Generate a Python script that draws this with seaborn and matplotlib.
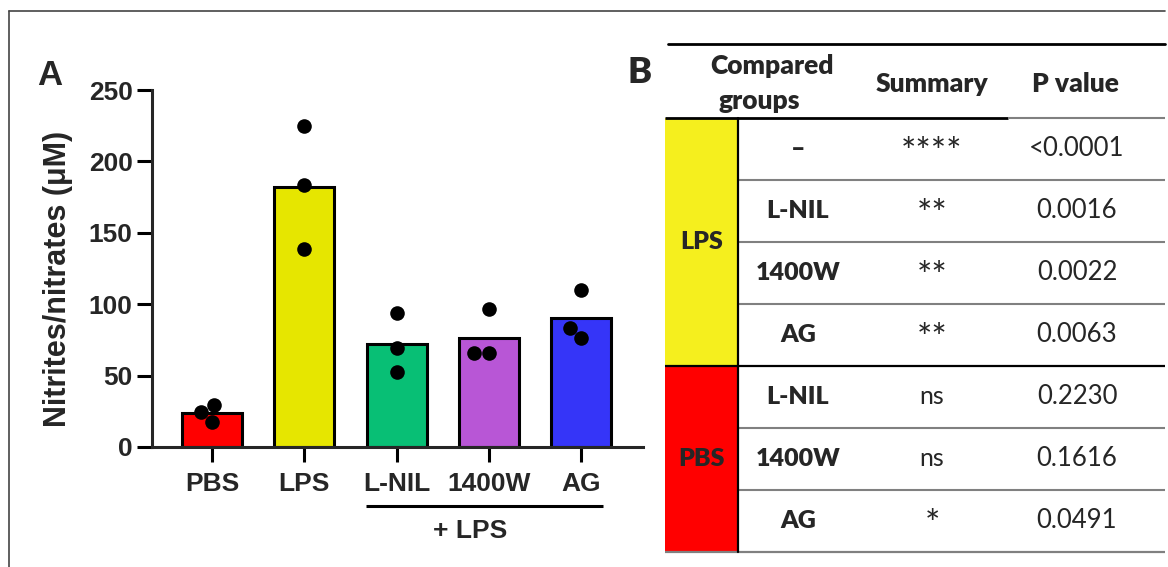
import numpy as np
import pandas as pd
import matplotlib
matplotlib.use('Agg')
import matplotlib.pyplot as plt
import seaborn as sns

# ---- panel A data ----
groups = ['PBS', 'LPS', 'L-NIL', '1400W', 'AG']
pbs = [29.5, 17.5, 24.5]
lps = [225, 183.5, 138.5]
lnil = [94, 69, 52.5]
w1400 = [96.5, 66, 65.5]
ag = [110, 76.5, 83.5]
bar_colors = ['#ff0000', '#e6e600', '#08bf75', '#b856d6', '#3535f8']
yticks = [0, 50, 100, 150, 200, 250]

# ---- panel B data ----
ref_groups = ['LPS', 'PBS']
group_sizes = [4, 3]
ref_colors = ['#f5ef1e', '#ff0000']
compared = ['–', 'L-NIL', '1400W', 'AG', 'L-NIL', '1400W', 'AG']
summary = ['****', '**', '**', '**', 'ns', 'ns', '*']
p_values = ['<0.0001', '0.0016', '0.0022', '0.0063', '0.2230', '0.1616', '0.0491']

df = pd.DataFrame({
    'group': np.repeat(groups, 3),
    'value': pbs + lps + lnil + w1400 + ag,
})

sns.set_style('ticks')
plt.rcParams['font.family'] = ['Liberation Sans', 'DejaVu Sans']

W, H = 1168, 567
fig = plt.figure(figsize=(W / 100, H / 100), dpi=100)

# bar chart
ax = fig.add_axes([152 / W, (H - 447) / H, 491 / W, 357 / H])
sns.barplot(data=df, x='group', y='value', hue='group', order=groups,
            palette=bar_colors, errorbar=None, width=0.65, saturation=1,
            edgecolor='black', linewidth=2.2, legend=False, ax=ax)
sns.swarmplot(data=df, x='group', y='value', order=groups, color='black',
              size=10.5, ax=ax)
ax.set_ylim(0, 250)
ax.set_xlim(-0.65, 4.67)
ax.set_yticks(yticks)
sns.despine(ax=ax)
for s in ['left', 'bottom']:
    ax.spines[s].set_linewidth(2.2)
ax.tick_params(axis='both', width=2.2, length=11, labelsize=19, color='black')
ax.tick_params(axis='y', pad=3)
ax.tick_params(axis='x', pad=7)
for lbl in ax.get_xticklabels() + ax.get_yticklabels():
    lbl.set_fontweight('bold')
ax.set_xlabel('')
ax.set_ylabel('Nitrites/nitrates (μM)', fontsize=22, fontweight='bold')
ax.yaxis.set_label_coords(-0.161, 0.47)

# overlay in pixel coordinates for annotations and the table
ov = fig.add_axes([0, 0, 1, 1])
ov.set_xlim(0, W)
ov.set_ylim(H, 0)
ov.axis('off')

# outer frame
ov.plot([9, 1165], [11, 11], color='#444444', lw=1.2)
ov.plot([9, 9], [11, H], color='#444444', lw=1.2)

ov.text(37, 85, 'A', fontsize=25, fontweight='bold', va='baseline')
ov.plot([366, 603], [506, 506], color='black', lw=2.2, solid_capstyle='butt')
ov.text(470, 531, '+ LPS', ha='center', va='center', fontsize=19, fontweight='bold')

# table (panel B)
tf = ['Lato', 'DejaVu Sans']
ov.text(627, 83, 'B', fontsize=26, fontweight='heavy', family=tf, va='baseline')
ov.plot([668, 1165], [44, 44], color='black', lw=2)
hdr = dict(ha='center', va='center', fontsize=19, fontweight='heavy', family=tf)
ov.text(772, 66, 'Compared', **hdr)
ov.text(759, 101, 'groups', **hdr)
ov.text(932, 84, 'Summary', **hdr)
ov.text(1075, 84, 'P value', **hdr)

top, row_h = 118, 62
col_x0, col_x1 = 665, 738
x_end = 1165
ov.plot([col_x0, 1008], [top, top], color='black', lw=2, solid_capstyle='butt')
ov.plot([1008, x_end], [top, top], color='#808080', lw=1.5, solid_capstyle='butt')

start = 0
for g, n, c in zip(ref_groups, group_sizes, ref_colors):
    y0 = top + start * row_h
    ov.add_patch(plt.Rectangle((col_x0, y0), col_x1 - col_x0, n * row_h,
                               facecolor=c, edgecolor='none'))
    ov.text((col_x0 + col_x1) / 2, y0 + n * row_h / 2, g, ha='center', va='center',
            fontsize=18, fontweight='heavy', family=tf)
    start += n

for i, (cg, sm, pv) in enumerate(zip(compared, summary, p_values)):
    yc = top + row_h * (i + 0.5)
    ov.text(798, yc, cg, ha='center', va='center', fontsize=18, fontweight='heavy', family=tf)
    if '*' in sm:
        ov.text(932, yc + 4, sm, ha='center', va='center', fontsize=26, family=tf)
    else:
        ov.text(932, yc, sm, ha='center', va='center', fontsize=18, family=tf)
    ov.text(1077, yc, pv, ha='center', va='center', fontsize=18.5, family=tf)
    yb = top + row_h * (i + 1)
    if i == group_sizes[0] - 1:
        ov.plot([col_x0, x_end], [yb, yb], color='black', lw=1.6, solid_capstyle='butt')
    elif i == len(compared) - 1:
        ov.plot([col_x0, x_end], [yb, yb], color='#808080', lw=1.6, solid_capstyle='butt')
    else:
        ov.plot([col_x1, x_end], [yb, yb], color='#808080', lw=1.5, solid_capstyle='butt')

ov.plot([col_x1, col_x1], [top, top + row_h * len(compared)], color='black', lw=1.6)

fig.savefig('out.png', dpi=100)
